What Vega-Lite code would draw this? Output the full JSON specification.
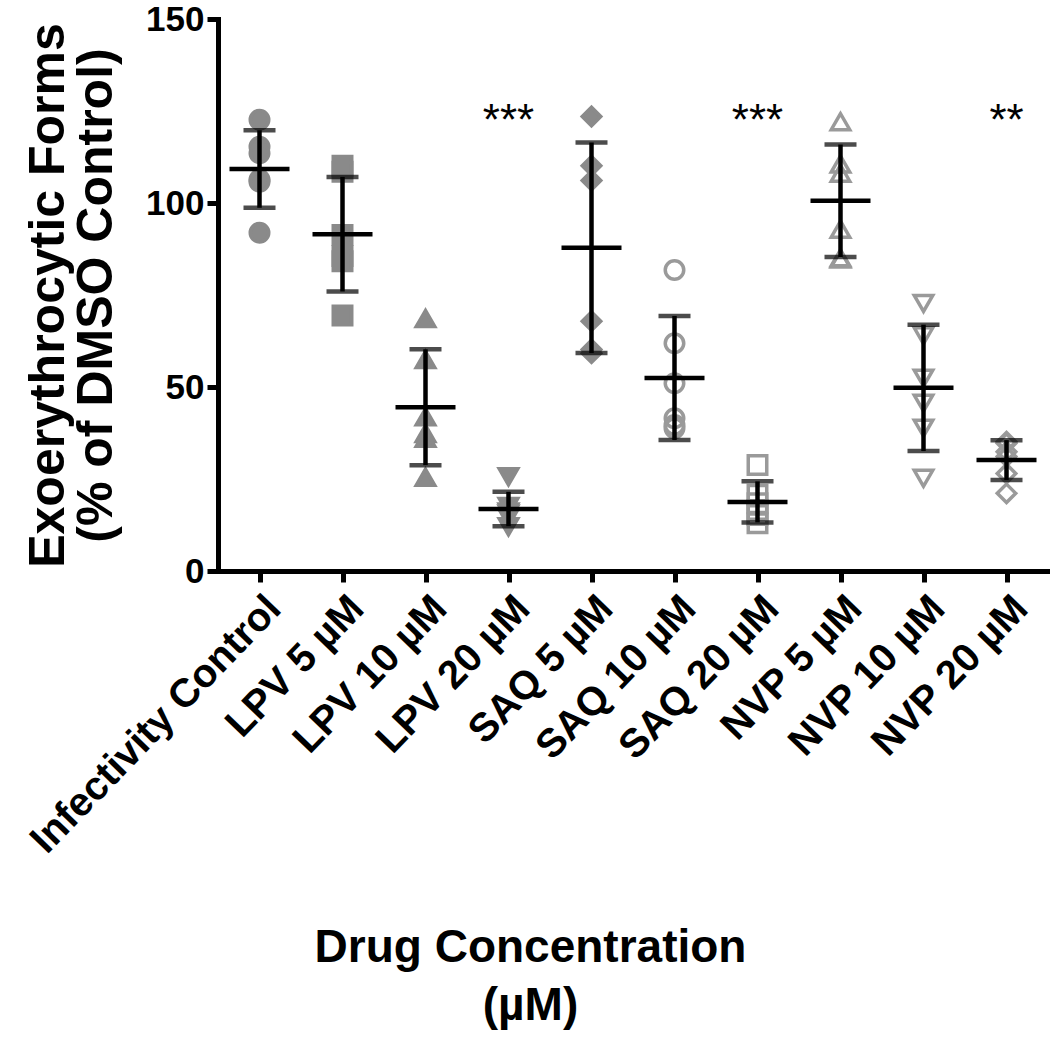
{
  "$schema": "https://vega.github.io/schema/vega-lite/v6.json",
  "width": 830,
  "height": 552,
  "autosize": {"type": "none"},
  "padding": {"left": 218, "top": 19, "right": 2, "bottom": 472},
  "background": "white",
  "config": {
    "view": {"stroke": null},
    "font": "Liberation Sans",
    "axis": {"grid": false, "domainColor": "black", "tickColor": "black", "labelColor": "black", "titleColor": "black", "labelFont": "Liberation Sans", "titleFont": "Liberation Sans", "labelFontWeight": "bold", "titleFontWeight": "bold"}
  },
  "datasets": {
    "obs": [
      {"group": "Infectivity Control", "value": 122.6},
      {"group": "Infectivity Control", "value": 115.3},
      {"group": "Infectivity Control", "value": 113.5},
      {"group": "Infectivity Control", "value": 106.3},
      {"group": "Infectivity Control", "value": 105.8},
      {"group": "Infectivity Control", "value": 91.9},
      {"group": "LPV 5 µM", "value": 110.1},
      {"group": "LPV 5 µM", "value": 108.5},
      {"group": "LPV 5 µM", "value": 91.3},
      {"group": "LPV 5 µM", "value": 85.6},
      {"group": "LPV 5 µM", "value": 84.2},
      {"group": "LPV 5 µM", "value": 69.4},
      {"group": "LPV 10 µM", "value": 68.6},
      {"group": "LPV 10 µM", "value": 57.5},
      {"group": "LPV 10 µM", "value": 41.9},
      {"group": "LPV 10 µM", "value": 37.4},
      {"group": "LPV 10 µM", "value": 36.1},
      {"group": "LPV 10 µM", "value": 25.5},
      {"group": "LPV 20 µM", "value": 25.6},
      {"group": "LPV 20 µM", "value": 17.5},
      {"group": "LPV 20 µM", "value": 16.0},
      {"group": "LPV 20 µM", "value": 15.5},
      {"group": "LPV 20 µM", "value": 14.5},
      {"group": "LPV 20 µM", "value": 12.0},
      {"group": "SAQ 5 µM", "value": 123.5},
      {"group": "SAQ 5 µM", "value": 110.1},
      {"group": "SAQ 5 µM", "value": 106.1},
      {"group": "SAQ 5 µM", "value": 67.9},
      {"group": "SAQ 5 µM", "value": 60.2},
      {"group": "SAQ 5 µM", "value": 59.2},
      {"group": "SAQ 10 µM", "value": 81.8},
      {"group": "SAQ 10 µM", "value": 61.9},
      {"group": "SAQ 10 µM", "value": 51.0},
      {"group": "SAQ 10 µM", "value": 41.5},
      {"group": "SAQ 10 µM", "value": 39.7},
      {"group": "SAQ 10 µM", "value": 38.8},
      {"group": "SAQ 20 µM", "value": 28.8},
      {"group": "SAQ 20 µM", "value": 20.7},
      {"group": "SAQ 20 µM", "value": 18.4},
      {"group": "SAQ 20 µM", "value": 16.6},
      {"group": "SAQ 20 µM", "value": 15.2},
      {"group": "SAQ 20 µM", "value": 13.0},
      {"group": "NVP 5 µM", "value": 122.1},
      {"group": "NVP 5 µM", "value": 110.6},
      {"group": "NVP 5 µM", "value": 108.1},
      {"group": "NVP 5 µM", "value": 92.9},
      {"group": "NVP 5 µM", "value": 85.1},
      {"group": "NVP 5 µM", "value": 84.8},
      {"group": "NVP 10 µM", "value": 72.7},
      {"group": "NVP 10 µM", "value": 63.9},
      {"group": "NVP 10 µM", "value": 52.4},
      {"group": "NVP 10 µM", "value": 45.6},
      {"group": "NVP 10 µM", "value": 38.8},
      {"group": "NVP 10 µM", "value": 25.2},
      {"group": "NVP 20 µM", "value": 35.1},
      {"group": "NVP 20 µM", "value": 34.7},
      {"group": "NVP 20 µM", "value": 32.4},
      {"group": "NVP 20 µM", "value": 31.1},
      {"group": "NVP 20 µM", "value": 26.5},
      {"group": "NVP 20 µM", "value": 21.1}
    ],
    "sig": [
      {"group": "LPV 20 µM", "label": "***", "value": 118.5},
      {"group": "SAQ 20 µM", "label": "***", "value": 118.5},
      {"group": "NVP 20 µM", "label": "**", "value": 118.5}
    ]
  },
  "encoding": {
    "x": {
      "field": "group",
      "type": "nominal",
      "sort": null,
      "scale": {"type": "point", "padding": 0.5, "domain": ["Infectivity Control", "LPV 5 µM", "LPV 10 µM", "LPV 20 µM", "SAQ 5 µM", "SAQ 10 µM", "SAQ 20 µM", "NVP 5 µM", "NVP 10 µM", "NVP 20 µM"]},
      "axis": {
        "title": ["Drug Concentration", "(µM)"],
        "titleFontSize": 46,
        "titleX": 312,
        "titleY": 390,
        "titleBaseline": "alphabetic",
        "titleLineHeight": 58,
        "labelAngle": -46,
        "labelFontSize": 40,
        "labelLimit": 0,
        "labelPadding": 6,
        "labelAlign": "right",
        "labelBaseline": "top",
        "domainWidth": 5,
        "tickWidth": 5,
        "tickSize": 11,
        "domainCap": "square"
      }
    },
    "y": {
      "field": "value",
      "type": "quantitative",
      "scale": {"domain": [0, 150], "nice": false, "zero": true},
      "axis": {
        "title": ["Exoerythrocytic Forms", "(% of DMSO Control)"],
        "titleFontSize": 50,
        "titleLineHeight": 48,
        "titlePadding": 24,
        "values": [0, 50, 100, 150],
        "labelFontSize": 35,
        "labelPadding": 3,
        "domainWidth": 5,
        "tickWidth": 5,
        "tickSize": 11,
        "domainCap": "square"
      }
    }
  },
  "layer": [
    {
      "data": {"name": "obs"},
      "mark": {"type": "point", "filled": true, "strokeWidth": 3.5, "opacity": 1},
      "encoding": {
        "shape": {"field": "group", "type": "nominal", "legend": null,
          "scale": {"domain": ["Infectivity Control", "LPV 5 µM", "LPV 10 µM", "LPV 20 µM", "SAQ 5 µM", "SAQ 10 µM", "SAQ 20 µM", "NVP 5 µM", "NVP 10 µM", "NVP 20 µM"],
                    "range": ["circle", "square", "triangle-up", "triangle-down", "diamond", "circle", "square", "triangle-up", "triangle-down", "diamond"]}},
        "fill": {"field": "group", "type": "nominal", "legend": null,
          "scale": {"domain": ["Infectivity Control", "LPV 5 µM", "LPV 10 µM", "LPV 20 µM", "SAQ 5 µM", "SAQ 10 µM", "SAQ 20 µM", "NVP 5 µM", "NVP 10 µM", "NVP 20 µM"],
                    "range": ["#8a8a8a", "#8a8a8a", "#8a8a8a", "#8a8a8a", "#8a8a8a", "transparent", "transparent", "transparent", "transparent", "transparent"]}},
        "stroke": {"field": "group", "type": "nominal", "legend": null,
          "scale": {"domain": ["Infectivity Control", "LPV 5 µM", "LPV 10 µM", "LPV 20 µM", "SAQ 5 µM", "SAQ 10 µM", "SAQ 20 µM", "NVP 5 µM", "NVP 10 µM", "NVP 20 µM"],
                    "range": ["#8a8a8a", "#8a8a8a", "#8a8a8a", "#8a8a8a", "#8a8a8a", "#9a9a9a", "#9a9a9a", "#9a9a9a", "#9a9a9a", "#9a9a9a"]}},
        "size": {"field": "group", "type": "nominal", "legend": null,
          "scale": {"domain": ["Infectivity Control", "LPV 5 µM", "LPV 10 µM", "LPV 20 µM", "SAQ 5 µM", "SAQ 10 µM", "SAQ 20 µM", "NVP 5 µM", "NVP 10 µM", "NVP 20 µM"],
                    "range": [342, 342, 320, 320, 560, 484, 380, 480, 480, 440]}}
      }
    },
    {
      "data": {"name": "obs"},
      "mark": {"type": "errorbar", "extent": "stdev", "color": "black", "thickness": 4.5,
               "ticks": {"size": 32, "thickness": 4.5, "color": "black"},
               "rule": {"strokeWidth": 4.5, "color": "black"}}
    },
    {
      "data": {"name": "obs"},
      "mark": {"type": "tick", "color": "black", "size": 60, "thickness": 4.5, "opacity": 1},
      "encoding": {
        "y": {"aggregate": "mean", "field": "value", "type": "quantitative"}
      }
    },
    {
      "data": {"name": "sig"},
      "mark": {"type": "text", "fontSize": 44, "fontWeight": "normal", "baseline": "alphabetic", "align": "center", "color": "black", "font": "Liberation Sans"},
      "encoding": {
        "text": {"field": "label"}
      }
    }
  ]
}
